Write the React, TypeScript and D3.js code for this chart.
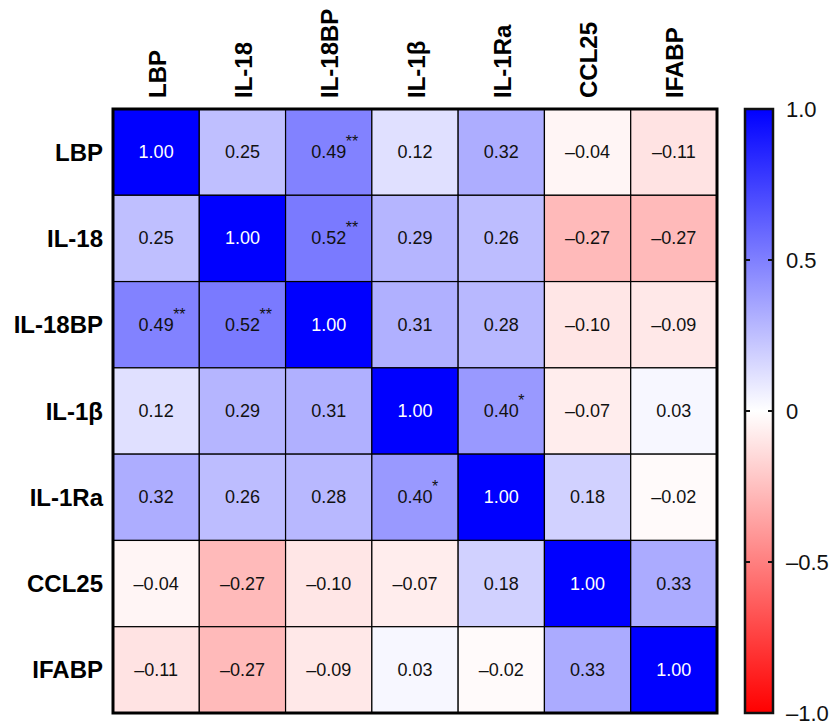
import { useMemo } from "react";
import * as d3 from "d3";

// Variables in the correlation matrix
const VARIABLES = ["LBP", "IL-18", "IL-18BP", "IL-1β", "IL-1Ra", "CCL25", "IFABP"];

// Spearman r, row by row
const ROW_LBP = [1.0, 0.25, 0.49, 0.12, 0.32, -0.04, -0.11];
const ROW_IL18 = [0.25, 1.0, 0.52, 0.29, 0.26, -0.27, -0.27];
const ROW_IL18BP = [0.49, 0.52, 1.0, 0.31, 0.28, -0.1, -0.09];
const ROW_IL1B = [0.12, 0.29, 0.31, 1.0, 0.4, -0.07, 0.03];
const ROW_IL1RA = [0.32, 0.26, 0.28, 0.4, 1.0, 0.18, -0.02];
const ROW_CCL25 = [-0.04, -0.27, -0.1, -0.07, 0.18, 1.0, 0.33];
const ROW_IFABP = [-0.11, -0.27, -0.09, 0.03, -0.02, 0.33, 1.0];

// Significance marks [row, col, stars]
const SIGNIF: [string, string, string][] = [
  ["LBP", "IL-18BP", "**"],
  ["IL-18BP", "LBP", "**"],
  ["IL-18", "IL-18BP", "**"],
  ["IL-18BP", "IL-18", "**"],
  ["IL-1β", "IL-1Ra", "*"],
  ["IL-1Ra", "IL-1β", "*"],
];

const COLORBAR_TICKS = [1, 0.5, 0, -0.5, -1];

const FONT = "Arial, 'Liberation Sans', Helvetica, sans-serif";

const fmt = (v: number) => d3.format(".2f")(v).replace(/[-−]/g, "–");
const fmtBar = (v: number) =>
  v === 0 ? "0" : d3.format(".1f")(v).replace(/[-−]/g, "–");

export default function App() {
  const width = 835;
  const height = 723;
  const grid = { left: 113, top: 109, size: 604 };
  const bar = { left: 745, width: 28 };

  const rows = [ROW_LBP, ROW_IL18, ROW_IL18BP, ROW_IL1B, ROW_IL1RA, ROW_CCL25, ROW_IFABP];

  const x = useMemo(
    () =>
      d3
        .scaleBand<string>()
        .domain(VARIABLES)
        .range([grid.left, grid.left + grid.size]),
    []
  );
  const y = useMemo(
    () =>
      d3
        .scaleBand<string>()
        .domain(VARIABLES)
        .range([grid.top, grid.top + grid.size]),
    []
  );
  const color = d3
    .scaleLinear<string>()
    .domain([-1, 0, 1])
    .range(["#ff0000", "#ffffff", "#0000ff"]);
  const barY = d3
    .scaleLinear()
    .domain([-1, 1])
    .range([grid.top + grid.size, grid.top]);

  const cells = rows.flatMap((row, i) =>
    row.map((v, j) => ({ r: VARIABLES[i], c: VARIABLES[j], v }))
  );
  const starOf = (r: string, c: string) =>
    SIGNIF.find((s) => s[0] === r && s[1] === c)?.[2];

  const bw = x.bandwidth();
  const gradStops = d3.range(0, 1.0001, 0.1);

  return (
    <svg
      width={width}
      height={height}
      style={{ position: "absolute", left: 0, top: 0, background: "#fff" }}
      fontFamily={FONT}
    >
      <defs>
        <linearGradient id="cbar" x1="0" y1="1" x2="0" y2="0">
          {gradStops.map((t) => (
            <stop key={t} offset={t} stopColor={color(-1 + 2 * t)} />
          ))}
        </linearGradient>
      </defs>

      {/* cells */}
      {cells.map((d) => (
        <rect
          key={d.r + d.c}
          x={x(d.c)}
          y={y(d.r)}
          width={bw}
          height={y.bandwidth()}
          fill={color(d.v)}
          stroke="#000"
          strokeWidth={1.2}
        />
      ))}
      {cells.map((d) => {
        const cx = (x(d.c) || 0) + bw / 2;
        const cy = (y(d.r) || 0) + y.bandwidth() / 2;
        const star = starOf(d.r, d.c);
        const light = d.v > 0.8;
        return (
          <g key={"t" + d.r + d.c}>
            <text
              x={cx}
              y={cy}
              textAnchor="middle"
              dominantBaseline="central"
              fontSize={18}
              fill={light ? "#fff" : "#111"}
            >
              {fmt(d.v)}
            </text>
            {star && (
              <text
                x={cx + 17}
                y={cy - 5}
                textAnchor="start"
                fontSize={16}
                fill="#111"
              >
                {star}
              </text>
            )}
          </g>
        );
      })}
      <rect
        x={grid.left}
        y={grid.top}
        width={grid.size}
        height={grid.size}
        fill="none"
        stroke="#000"
        strokeWidth={3}
      />

      {/* column labels */}
      {VARIABLES.map((v) => {
        const cx = (x(v) || 0) + bw / 2 + 1;
        return (
          <text
            key={"c" + v}
            transform={`translate(${cx},98) rotate(-90)`}
            dominantBaseline="central"
            fontSize={24}
            fontWeight="bold"
            fill="#000"
          >
            {v}
          </text>
        );
      })}

      {/* row labels */}
      {VARIABLES.map((v) => (
        <text
          key={"r" + v}
          x={103}
          y={(y(v) || 0) + y.bandwidth() / 2}
          textAnchor="end"
          dominantBaseline="central"
          fontSize={24}
          fontWeight="bold"
          fill="#000"
        >
          {v}
        </text>
      ))}

      {/* color bar */}
      <rect
        x={bar.left}
        y={grid.top}
        width={bar.width}
        height={grid.size}
        fill="url(#cbar)"
        stroke="#111"
        strokeWidth={2.5}
      />
      {COLORBAR_TICKS.map((t) => (
        <g key={"b" + t}>
          <line
            x1={bar.left}
            x2={bar.left + 5}
            y1={barY(t)}
            y2={barY(t)}
            stroke="#111"
            strokeWidth={2}
          />
          <line
            x1={bar.left + bar.width - 5}
            x2={bar.left + bar.width}
            y1={barY(t)}
            y2={barY(t)}
            stroke="#111"
            strokeWidth={2}
          />
          <text
            x={786}
            y={barY(t)}
            dominantBaseline="central"
            fontSize={22}
            fill="#111"
          >
            {fmtBar(t)}
          </text>
        </g>
      ))}
    </svg>
  );
}
